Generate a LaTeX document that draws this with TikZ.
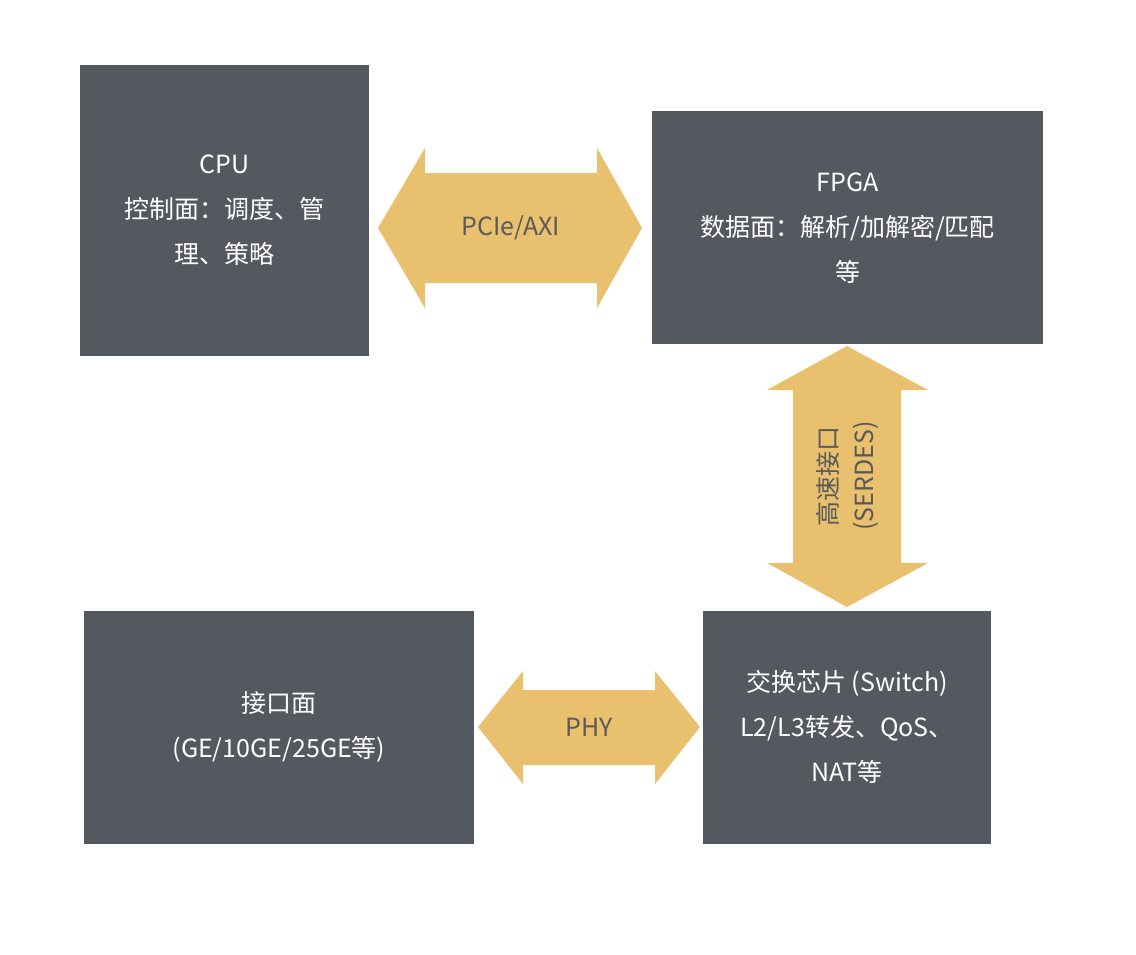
\documentclass[tikz,border=0pt]{standalone}
\usepackage{fontspec}
\setmainfont{Noto Sans CJK SC}
\definecolor{boxc}{HTML}{54585F}
\definecolor{arrc}{HTML}{E8C06E}
\definecolor{txtc}{HTML}{5A5A5A}
\begin{document}
\begin{tikzpicture}[x=1pt,y=-1pt,
  blk/.style={fill=boxc,draw=none,text=white,align=center,font=\fontsize{25}{45}\selectfont},
  arr/.style={fill=arrc,draw=none},
  lbl/.style={text=txtc,font=\fontsize{25}{36}\selectfont,align=center}]
\useasboundingbox (0,0) rectangle (1136,954);
\fill[blk] (80,65) rectangle (369,356);
\node[blk] (cpu) at (224.5,210) {CPU\\控制面：调度、管\\理、策略};
\fill[blk] (652,111) rectangle (1043,344);
\node[blk,text width=380pt] (fpga) at (847.5,228) {FPGA\\数据面：解析/加解密/匹配\\等};
\fill[blk] (84,611) rectangle (474,844);
\node[blk] (intf) at (279,727) {接口面\\(GE/10GE/25GE等)};
\fill[blk] (703,611) rectangle (991,844);
\node[blk] (sw) at (847,727) {交换芯片 (Switch)\\L2/L3转发、QoS、\\NAT等};
% PCIe arrow
\fill[arr] (378,228) -- (425,148) -- (425,173) -- (597,173) -- (597,148) -- (642,228) -- (597,308) -- (597,283) -- (425,283) -- (425,308) -- cycle;
\node[lbl] (pcie) at (511,228) {PCIe/AXI};
% vertical arrow
\fill[arr] (847,346) -- (928,390) -- (901,390) -- (901,563) -- (928,563) -- (847,607) -- (767,563) -- (793,563) -- (793,390) -- (767,390) -- cycle;
\node[lbl,rotate=90] (serdes) at (847,476) {高速接口\\(SERDES)};
% PHY arrow
\fill[arr] (478,727) -- (523,671) -- (523,690) -- (655,690) -- (655,671) -- (700,727) -- (655,784) -- (655,765) -- (523,765) -- (523,784) -- cycle;
\node[lbl] (phy) at (589,727) {PHY};
\end{tikzpicture}
\end{document}
